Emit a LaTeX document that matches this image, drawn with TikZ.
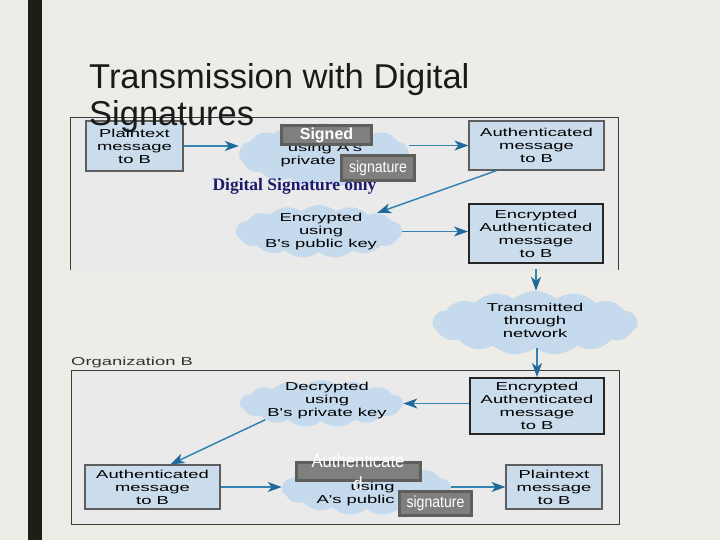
\documentclass[tikz,border=0pt]{standalone}
\usepackage{fontspec}
\setmainfont{Liberation Sans}
\newfontfamily\diagfont[FakeStretch=1.6]{Liberation Sans}
\newfontfamily\narrowfont[FakeStretch=0.88]{Liberation Sans}
\newfontfamily\serifbold{Liberation Serif}
\usetikzlibrary{shapes.symbols,arrows.meta}
\definecolor{pagebg}{HTML}{EEECE6}
\definecolor{barink}{HTML}{1E1E16}
\definecolor{titleink}{HTML}{1A1A1A}
\definecolor{panelgray}{HTML}{EAEAEB}
\definecolor{panelline}{HTML}{3C3C3C}
\definecolor{boxblue}{HTML}{CBDCEC}
\definecolor{boxline}{HTML}{5E5E5E}
\definecolor{cloudblue}{HTML}{C6DAEE}
\definecolor{flowblue}{HTML}{3384B2}
\definecolor{headblue}{HTML}{1F6A9A}
\definecolor{stampfill}{HTML}{7F7F7D}
\definecolor{stampedge}{HTML}{5E5E5C}
\definecolor{navyink}{HTML}{1B1B6B}
\begin{document}
\begin{tikzpicture}[x=1pt,y=-1pt,
    msgbox/.style={draw=boxline,line width=1.2pt,fill=boxblue,inner sep=0pt,align=center,font=\diagfont\fontsize{11.5}{13}\selectfont},
    cryptbox/.style={msgbox,draw=black!85,line width=2pt},
    puff/.style={shape=cloud,cloud puffs=15,cloud puff arc=80,cloud ignores aspect,fill=cloudblue,inner sep=0pt},
    puffnote/.style={align=center,inner sep=0pt,font=\diagfont\fontsize{11.5}{13}\selectfont},
    flow/.style={draw=flowblue,line width=1.5pt,-{Stealth[length=14pt,width=10pt,inset=4pt,color=headblue]}},
    stamp/.style={draw=stampedge,line width=3pt,fill=stampfill,inner sep=0pt,text=white}]
    \useasboundingbox (0,0) rectangle (720,540);
    \fill[pagebg] (0,0) rectangle (720,540);
    \fill[barink] (28,0) rectangle (42,540);
    \fill[panelgray] (70,118) rectangle (618,270);
    \draw[panelline,line width=1pt] (70,270) -- (70,118) -- (618,118) -- (618,270);
    \draw[panelline,line width=1pt,fill=panelgray] (71,370) rectangle (619,524);
    \node[anchor=west,inner sep=0pt,text=black!80,font=\diagfont\fontsize{11.5}{13}\selectfont] (orgb) at (71,363) {Organization B};

    \node[puff,minimum width=170pt,minimum height=63pt] (c1) at (324,154.5) {};
    \node[puffnote] (c1txt) at (325,155.5) {using A's\\private key};
    \node[puff,minimum width=166pt,minimum height=53pt] (c2) at (319,231.5) {};
    \node[puffnote] (c2txt) at (321,231.5) {Encrypted\\using\\B's public key};
    \node[puff,minimum width=205pt,minimum height=64pt] (c3) at (535,323) {};
    \node[puffnote] (c3txt) at (535,320.5) {Transmitted\\through\\network};
    \node[puff,minimum width=163pt,minimum height=47pt] (c4) at (321.5,403.5) {};
    \node[puffnote] (c4txt) at (327,401) {Decrypted\\using\\B's private key};
    \node[puff,minimum width=169pt,minimum height=53pt] (c5) at (366.5,488.5) {};
    \node[puffnote] (c5txt) at (372.5,494.5) {using\\A's public key};

    \node[msgbox,minimum width=97pt,minimum height=50pt] (p1) at (134.5,146) {Plaintext\\message\\to B};
    \node[msgbox,minimum width=135pt,minimum height=49pt] (a1) at (536.5,145.5) {Authenticated\\message\\to B};
    \node[cryptbox,minimum width=134pt,minimum height=59pt] (e1) at (536,233.5) {Encrypted\\Authenticated\\message\\to B};
    \node[cryptbox,minimum width=134pt,minimum height=56pt] (e2) at (537,406) {Encrypted\\Authenticated\\message\\to B};
    \node[msgbox,minimum width=135pt,minimum height=44pt] (a2) at (152.5,487) {Authenticated\\message\\to B};
    \node[msgbox,minimum width=96pt,minimum height=44pt] (p2) at (554,487) {Plaintext\\message\\to B};

    \draw[flow] (p1.east) -- (p1.east -| c1.west);
    \draw[flow] (c1.east |- a1.west) -- (a1.west);
    \draw[flow] ([xshift=-40pt]a1.south) -- (c2.north east);
    \draw[flow] (c2.east) -- (c2.east -| e1.west);
    \draw[flow] ([yshift=-5pt]e1.south) -- (e1.south |- c3.north);
    \draw[flow] (e2.north |- c3.south) -- (e2.north);
    \draw[flow] (e2.west |- c4.east) -- (c4.east);
    \draw[flow] (c4.south west) -- ([xshift=18pt]a2.north);
    \draw[flow] (a2.east) -- (a2.east -| c5.west);
    \draw[flow] (c5.east |- p2.west) -- (p2.west);

    \node[text=navyink,inner sep=0pt,font=\serifbold\bfseries\fontsize{17.5}{20}\selectfont] (sigonly) at (294.5,186) {Digital Signature only};
    \node[stamp,minimum width=90pt,minimum height=19pt,font=\bfseries\fontsize{16}{18}\selectfont] (signed) at (326.5,135) {Signed};
    \node[stamp,minimum width=73pt,minimum height=25pt,font=\narrowfont\fontsize{16}{18}\selectfont] (sigtop) at (378,168) {signature};
    \node[stamp,minimum width=124pt,minimum height=18pt] (authstamp) at (358.5,471.5) {};
    \node[align=center,text=white,inner sep=0pt,font=\narrowfont\fontsize{19}{23}\selectfont] (authword) at (358,472.5) {Authenticate\\d};
    \node[stamp,minimum width=72pt,minimum height=24pt,font=\narrowfont\fontsize{16}{18}\selectfont] (sigbottom) at (435.5,503.5) {signature};

    \node[anchor=north west,inner sep=0pt,align=left,text=titleink,font=\fontsize{34.5}{37}\selectfont] (title) at (89,63) {Transmission with Digital\\Signatures};
\end{tikzpicture}
\end{document}
